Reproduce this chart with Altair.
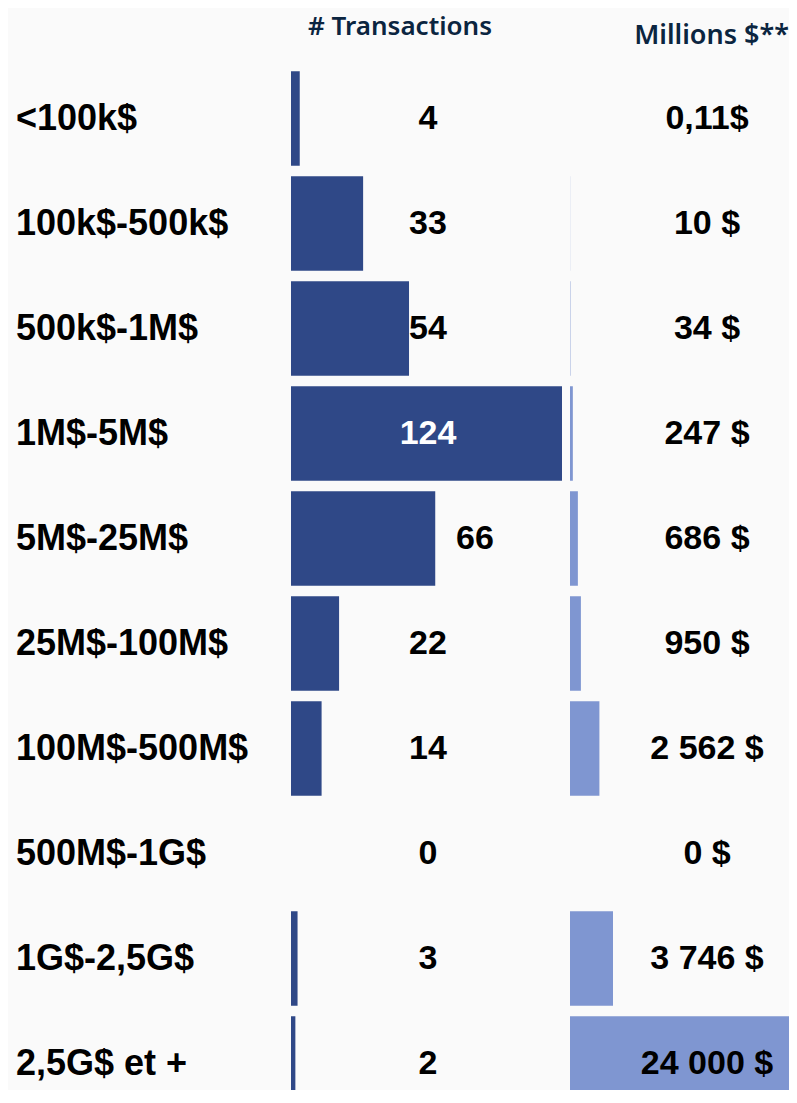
import altair as alt
import pandas as pd

categories = ["<100k$", "100k$-500k$", "500k$-1M$", "1M$-5M$", "5M$-25M$",
              "25M$-100M$", "100M$-500M$", "500M$-1G$", "1G$-2,5G$", "2,5G$ et +"]
transactions = [4, 33, 54, 124, 66, 22, 14, 0, 3, 2]
millions = [0.11, 10, 34, 247, 686, 950, 2562, 0, 3746, 24000]
millions_labels = ["0,11$", "10 $", "34 $", "247 $", "686 $", "950 $",
                   "2 562 $", "0 $", "3 746 $", "24 000 $"]
headers = ["# Transactions", "Millions $**"]

DARK = "#2f4887"
LIGHT = "#7f96d1"
BG = "#fafafa"
HEAD = "#0b2540"

df = pd.DataFrame({"cat": categories, "n": transactions, "m": millions, "mlab": millions_labels})

H = 1082
yscale = alt.Scale(domain=categories, range=[58, 1108], paddingInner=0.1, paddingOuter=0.05)
y = alt.Y("cat:N", scale=yscale, axis=None)

num_font = dict(font="Liberation Sans", fontWeight="bold", fontSize=34, baseline="middle", align="center")

labels = alt.Chart(df).mark_text(
    align="left", baseline="middle", font="Liberation Sans", fontWeight="bold",
    fontSize=36, color="black"
).encode(x=alt.value(8), y=y, text="cat:N").properties(width=275, height=H)

# Transactions panel
bars_t = alt.Chart(df).mark_bar(color=DARK, clip=True).encode(
    x=alt.X("n:Q", scale=alt.Scale(domain=[0, 124], nice=False), axis=None),
    y=y,
)
text_t = alt.Chart(df).transform_calculate(
    tx="datum.cat == '5M$-25M$' ? 184 : 137"
).mark_text(**num_font).encode(
    x=alt.X("tx:Q", scale=None),
    y=y,
    text="n:Q",
    color=alt.condition("datum.n > 100", alt.value("white"), alt.value("black")),
)
head_t = alt.Chart(pd.DataFrame({"h": [headers[0]]})).mark_text(
    font="Noto Sans", fontWeight=600, fontSize=26, color=HEAD, baseline="middle", align="center"
).encode(x=alt.value(109), y=alt.value(19), text="h:N")
trans = alt.layer(bars_t, text_t, head_t).properties(width=271, height=H)

# Millions panel
bars_m = alt.Chart(df).mark_bar(color=LIGHT, clip=True).encode(
    x=alt.X("m:Q", scale=alt.Scale(domain=[0, 19080], nice=False), axis=None),
    y=y,
)
text_m = alt.Chart(df).mark_text(color="black", **num_font).encode(
    x=alt.value(137), y=y, text="mlab:N"
)
head_m = alt.Chart(pd.DataFrame({"h": [headers[1]]})).mark_text(
    font="Noto Sans", fontWeight=600, fontSize=27, color=HEAD, baseline="middle", align="right"
).encode(x=alt.value(219), y=alt.value(28), text="h:N")
mill = alt.layer(bars_m, text_m, head_m).properties(width=219, height=H)

chart = alt.hconcat(labels, trans, mill, spacing=8).configure_view(
    stroke=None
).properties(background=BG, padding=0)

chart.save("out.html", embed_options={"renderer": "svg", "actions": False})
